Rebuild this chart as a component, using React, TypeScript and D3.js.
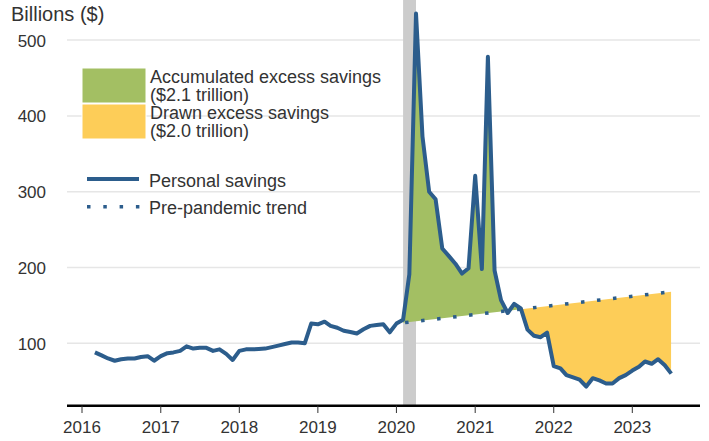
import React from "react";
import * as d3 from "d3";

// Monthly personal savings, billions of $, starting March 2016
const startMonth = "2016-03";
const savings: number[] = [
  88, 84, 80, 77, 79, 80, 80, 82, 83, 77,
  83, 87, 88, 90, 96, 93, 94, 94, 90, 92, 86, 78,
  90, 92, 92, 92.5, 93, 95, 97, 99, 101, 101, 100, 126,
  125, 128.5, 123, 120.5, 116.5, 115, 113, 118.5, 123, 124, 125, 114.5,
  126, 131, 191, 535, 373, 300, 290, 225, 215, 205, 192, 199,
  321, 198, 478, 196, 157, 140, 152, 146, 118, 110, 108, 114,
  70, 67, 58, 55, 52, 43, 54, 51, 47, 47, 54, 58,
  64, 69, 76, 73, 79, 71, 60,
];
// Pre-pandemic trend (straight line): endpoints
const trendDates = ["2020-02", "2023-07"];
const trendValues = [127, 168];
// Fill ranges
const accumulatedRange = ["2020-02", "2021-08"];
const drawnRange = ["2021-08", "2023-07"];
// Recession
const recession = ["2020-02", "2020-04"];
const yearTicks = [2016, 2017, 2018, 2019, 2020, 2021, 2022, 2023];
const yTicks = [100, 200, 300, 400, 500];
const legendAreas = [
  { lines: ["Accumulated excess savings", "($2.1 trillion)"], color: "#a3bf63" },
  { lines: ["Drawn excess savings", "($2.0 trillion)"], color: "#fdcd58" },
];
const legendLines = [
  { label: "Personal savings", dashed: false },
  { label: "Pre-pandemic trend", dashed: true },
];

const parse = d3.timeParse("%Y-%m");
const LINE = "#2c5d8c";
const GREEN = "#a3bf63";
const YELLOW = "#fdcd58";
const TEXT = "#333333";
const FONT = "'Liberation Sans', Arial, Helvetica, sans-serif";

export default function App() {
  const W = 709, H = 441;
  const axisY = 405.7;
  const x = d3
    .scaleTime()
    .domain([new Date(2016, 0, 1), new Date(2023, 0, 1)])
    .range([82, 632.3]);
  const y = d3.scaleLinear().domain([100, 500]).range([343.3, 40.1]);

  const start = parse(startMonth)!;
  const data = savings.map((v, i) => ({ date: d3.timeMonth.offset(start, i), v }));

  const inRange = (r: string[]) => {
    const a = parse(r[0])!.getTime(), b = parse(r[1])!.getTime();
    return data.filter((d) => d.date.getTime() >= a && d.date.getTime() <= b);
  };

  const line = d3
    .line<{ date: Date; v: number }>()
    .x((d) => x(d.date))
    .y((d) => y(d.v));

  const greenArea = d3
    .area<{ date: Date; v: number }>()
    .x((d) => x(d.date))
    .y0(axisY)
    .y1((d) => y(d.v));
  const yellowArea = d3
    .area<{ date: Date; v: number }>()
    .x((d) => x(d.date))
    .y0(0)
    .y1((d) => y(d.v));

  const t0 = { x: x(parse(trendDates[0])!), y: y(trendValues[0]) };
  const t1 = { x: x(parse(trendDates[1])!), y: y(trendValues[1]) };
  const aboveTrend = `M${t0.x},${t0.y}L${t1.x},${t1.y}L${t1.x},0L${t0.x},0Z`;
  const belowTrend = `M${t0.x},${t0.y}L${t1.x},${t1.y}L${t1.x},${axisY}L${t0.x},${axisY}Z`;

  const recX0 = x(parse(recession[0])!);
  const recX1 = x(parse(recession[1])!);

  return (
    <svg
      width={W}
      height={H}
      style={{ position: "absolute", left: 0, top: 0, background: "#fff" }}
      fontFamily={FONT}
    >
      <defs>
        <clipPath id="above">
          <path d={aboveTrend} />
        </clipPath>
        <clipPath id="below">
          <path d={belowTrend} />
        </clipPath>
      </defs>
      <rect width={W} height={H} fill="#fff" />
      {/* gridlines */}
      {yTicks.map((t) => (
        <line key={t} x1={67} x2={700} y1={y(t)} y2={y(t)} stroke="#e6e6e6" strokeWidth={1.5} />
      ))}
      {yTicks.map((t) => (
        <text key={"l" + t} x={46} y={y(t)} dy="0.38em" textAnchor="end" fontSize={17} fill={TEXT}>
          {t}
        </text>
      ))}
      <text x={11} y={21} fontSize={20} fill={TEXT}>
        Billions ($)
      </text>
      {/* recession band */}
      <rect x={recX0} y={0} width={recX1 - recX0} height={axisY} fill="#cccccc" />
      {/* excess savings areas */}
      <path d={greenArea(inRange(accumulatedRange))!} fill={GREEN} clipPath="url(#above)" />
      <path d={yellowArea(inRange(drawnRange))!} fill={YELLOW} clipPath="url(#below)" />
      {/* trend */}
      <line
        x1={t0.x}
        y1={t0.y}
        x2={t1.x}
        y2={t1.y}
        stroke={LINE}
        strokeWidth={3.5}
        strokeDasharray="3.5 12.6"
        strokeDashoffset={-2}
      />
      {/* personal savings */}
      <path d={line(data)!} fill="none" stroke={LINE} strokeWidth={4} strokeLinejoin="round" />
      {/* x axis */}
      <line x1={67} x2={700} y1={axisY} y2={axisY} stroke="#000" strokeWidth={2.5} />
      {yearTicks.map((yr) => {
        const xx = x(new Date(yr, 0, 1));
        return (
          <g key={yr}>
            <line x1={xx} x2={xx} y1={axisY} y2={413} stroke="#333" strokeWidth={1} />
            <text x={xx} y={433} textAnchor="middle" fontSize={17} fill={TEXT}>
              {yr}
            </text>
          </g>
        );
      })}
      {/* legend */}
      {legendAreas.map((l, i) => (
        <g key={l.lines[0]}>
          <rect x={82} y={68 + i * 36} width={64} height={35} fill={l.color} stroke="#fff" strokeWidth={1} />
          {l.lines.map((s, j) => (
            <text key={s} x={150} y={82.7 + i * 36.5 + j * 18.2} fontSize={18} fill={TEXT}>
              {s}
            </text>
          ))}
        </g>
      ))}
      {legendLines.map((l, i) => (
        <g key={l.label}>
          <line
            x1={87}
            x2={l.dashed ? 141 : 139}
            y1={179 + i * 27.7}
            y2={179 + i * 27.7}
            stroke={LINE}
            strokeWidth={l.dashed ? 3.5 : 4}
            strokeDasharray={l.dashed ? "3.5 12.8" : undefined}
          />
          <text x={149} y={186.5 + i * 27.5} fontSize={18} fill={TEXT}>
            {l.label}
          </text>
        </g>
      ))}
    </svg>
  );
}
